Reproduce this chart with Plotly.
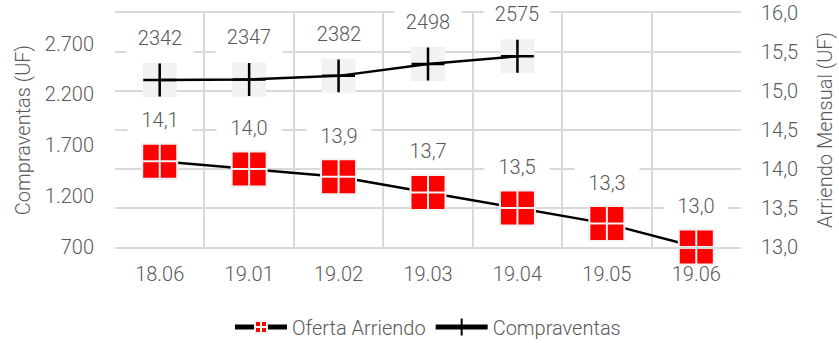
import plotly.graph_objects as go

# Series data
periods = ["18.06", "19.01", "19.02", "19.03", "19.04", "19.05", "19.06"]
arriendo = [14.1, 14.0, 13.9, 13.7, 13.5, 13.3, 13.0]          # Oferta Arriendo, UF/mes (eje derecho)
compraventas = [2342, 2347, 2382, 2498, 2575, None, None]       # Compraventas, UF (eje izquierdo)

left_ticks = [700, 1200, 1700, 2200, 2700]
right_ticks = [13.0, 13.5, 14.0, 14.5, 15.0, 15.5, 16.0]

FONT = "Roboto"
FS = 20
TXT = "#595959"
GRID = "#D9D9D9"

fig = go.Figure()

# Oferta Arriendo: red squares with a light cross, on the secondary axis
fig.add_trace(go.Scatter(
    x=periods, y=arriendo, name="Oferta Arriendo", yaxis="y2",
    mode="lines+markers", cliponaxis=False,
    line=dict(color="black", width=2.5),
    marker=dict(symbol="square-cross", size=35, color="#FF0000",
                line=dict(color="#F2F2F2", width=2)),
))

# Compraventas: light grey square backdrop under each cross marker
fig.add_trace(go.Scatter(
    x=periods, y=compraventas, mode="markers", showlegend=False, hoverinfo="skip",
    cliponaxis=False,
    marker=dict(symbol="square", size=34, color="#F2F2F2", line=dict(width=0)),
))
fig.add_trace(go.Scatter(
    x=periods, y=compraventas, name="Compraventas",
    mode="lines+markers", cliponaxis=False,
    line=dict(color="black", width=2.5),
    marker=dict(symbol="cross-thin", size=23.5, color="black",
                line=dict(color="black", width=2.5)),
))

# Data labels in white boxes (category axis positions given by index)
label_font = dict(family=FONT, size=FS, color=TXT, weight=300)
annotations = []
for i, v in enumerate(arriendo):
    annotations.append(dict(
        x=i, y=v, xref="x", yref="y2", text=f"{v:.1f}".replace(".", ","),
        showarrow=False, yshift=41, bgcolor="white", width=62, height=30,
        font=label_font,
    ))
for i, v in enumerate(compraventas):
    if v is None:
        continue
    annotations.append(dict(
        x=i, y=v, xref="x", yref="y", text=str(v),
        showarrow=False, yshift=42, bgcolor="white", width=64, height=30,
        font=label_font,
    ))

fig.update_layout(
    width=839, height=343,
    margin=dict(l=115, r=98, t=13, b=96),
    paper_bgcolor="white", plot_bgcolor="white",
    separators=",.",
    font=dict(family=FONT, size=FS, color=TXT, weight=300),
    showlegend=True,
    legend=dict(orientation="h", x=0.5, xanchor="center",
                yref="container", y=1 - 327 / 343, yanchor="middle",
                font=dict(size=FS, color=TXT), itemsizing="constant", itemwidth=52,
                bgcolor="rgba(0,0,0,0)"),
    annotations=annotations,
    xaxis=dict(
        type="category", categoryorder="array", categoryarray=periods,
        range=[-0.5, 6.5], tickson="boundaries", ticks="",
        showgrid=True, gridcolor=GRID, gridwidth=1.5,
        showline=True, linecolor=GRID, linewidth=1.5, mirror=True,
        ticklabelstandoff=8, zeroline=False, automargin=False,
    ),
    yaxis=dict(
        range=[700, 3000], tickvals=left_ticks, tickformat=",d",
        showgrid=False, zeroline=False, ticks="", ticklabelstandoff=20,
        automargin=False,
        title=dict(text="Compraventas (UF)", font=dict(size=FS, color=TXT), standoff=8),
    ),
    yaxis2=dict(
        overlaying="y", side="right",
        range=[13.0, 16.0], tickvals=right_ticks, tickformat=".1f",
        showgrid=True, gridcolor=GRID, gridwidth=1.5, zeroline=False,
        ticks="", ticklabelstandoff=19, automargin=False,
        title=dict(text="Arriendo Mensual (UF)", font=dict(size=FS, color=TXT), standoff=20),
    ),
)

fig.write_html("out.html")
